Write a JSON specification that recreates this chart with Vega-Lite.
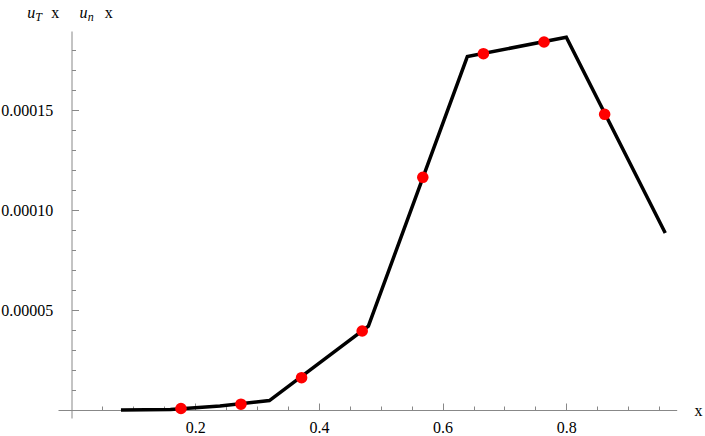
{
  "$schema": "https://vega.github.io/schema/vega-lite/v6.json",
  "width": 618.7,
  "height": 387,
  "autosize": {"type": "none"},
  "padding": {"left": 58, "top": 31, "right": 28.3, "bottom": 18},
  "background": "white",
  "config": {"view": {"stroke": null}, "font": "Liberation Serif"},
  "datasets": {
    "curve": [
      {"x": 0.08, "y": 0.0000000},
      {"x": 0.16, "y": 0.0000003},
      {"x": 0.24, "y": 0.0000020},
      {"x": 0.32, "y": 0.0000047},
      {"x": 0.48, "y": 0.0000419},
      {"x": 0.64, "y": 0.0001767},
      {"x": 0.80, "y": 0.0001864},
      {"x": 0.96, "y": 0.0000885}
    ],
    "points": [
      {"x": 0.177, "y": 0.00000075},
      {"x": 0.274, "y": 0.0000029},
      {"x": 0.372, "y": 0.00001615},
      {"x": 0.470, "y": 0.0000395},
      {"x": 0.568, "y": 0.00011635},
      {"x": 0.666, "y": 0.00017815},
      {"x": 0.764, "y": 0.000184},
      {"x": 0.862, "y": 0.00014785}
    ]
  },
  "resolve": {"axis": {"x": "independent", "y": "independent"}},
  "layer": [
    {
      "data": {"name": "points"},
      "mark": {"type": "circle", "opacity": 0},
      "encoding": {
        "x": {
          "field": "x", "type": "quantitative",
          "axis": {
            "orient": "bottom", "values": [], "offset": -8,
            "grid": false, "domain": false, "labels": false, "ticks": false,
            "title": "x",
            "titleFont": "Liberation Serif", "titleFontSize": 16, "titleFontWeight": "normal", "titleColor": "black",
            "titleX": 46.3, "titleY": -393, "titleAlign": "left", "titleBaseline": "alphabetic"
          }
        },
        "y": {
          "field": "y", "type": "quantitative",
          "axis": {
            "orient": "left", "values": [], "offset": -13.5,
            "grid": false, "domain": false, "labels": false, "ticks": false,
            "title": "n",
            "titleFont": "Liberation Serif", "titleFontSize": 12, "titleFontWeight": "normal", "titleFontStyle": "italic", "titleColor": "black",
            "titleAngle": 0, "titleX": 15.8, "titleY": -11, "titleAlign": "left", "titleBaseline": "alphabetic"
          }
        }
      }
    },
    {
      "data": {"name": "points"},
      "mark": {"type": "circle", "opacity": 0},
      "encoding": {
        "x": {
          "field": "x", "type": "quantitative",
          "axis": null
        },
        "y": {
          "field": "y", "type": "quantitative",
          "axis": {
            "orient": "left", "values": [], "offset": -13.5,
            "grid": false, "domain": false, "labels": false, "ticks": false,
            "title": "u",
            "titleFont": "Liberation Serif", "titleFontSize": 16, "titleFontWeight": "normal", "titleFontStyle": "italic", "titleColor": "black",
            "titleAngle": 0, "titleX": 7.5, "titleY": -14, "titleAlign": "left", "titleBaseline": "alphabetic"
          }
        }
      }
    },
    {
      "data": {"name": "curve"},
      "mark": {"type": "line", "color": "black", "strokeWidth": 3.5, "strokeJoin": "miter", "strokeCap": "butt", "clip": false},
      "encoding": {
        "x": {
          "field": "x", "type": "quantitative",
          "scale": {"domain": [-0.0218, 0.9785], "nice": false, "zero": false},
          "axis": {
            "orient": "bottom",
            "values": [0.2, 0.4, 0.6, 0.8],
            "format": ".1f",
            "offset": -8,
            "grid": false,
            "domainColor": "#888888", "domainWidth": 1,
            "tickColor": "#888888", "tickWidth": 1, "tickSize": -7,
            "labelFont": "Liberation Serif", "labelFontSize": 16, "labelColor": "black",
            "labelPadding": 16.7, "labelOverlap": false, "labelFlush": false, "labelBaseline": "top",
            "title": "x", "titleFont": "Liberation Serif", "titleFontSize": 16, "titleFontWeight": "normal", "titleColor": "black",
            "titleX": 640, "titleY": 5, "titleAlign": "center", "titleBaseline": "alphabetic"
          }
        },
        "y": {
          "field": "y", "type": "quantitative",
          "scale": {"domain": [-0.000004, 0.0001895], "nice": false, "zero": false},
          "axis": {
            "orient": "left",
            "values": [0.00005, 0.0001, 0.00015],
            "format": ".5f",
            "offset": -13.5,
            "grid": false,
            "domainColor": "#888888", "domainWidth": 1,
            "tickColor": "#888888", "tickWidth": 1, "tickSize": -7,
            "labelFont": "Liberation Serif", "labelFontSize": 16, "labelColor": "black",
            "labelPadding": 25.8, "labelOverlap": false, "labelFlush": false, "labelBaseline": "middle",
            "title": "u",
            "titleFont": "Liberation Serif", "titleFontSize": 16, "titleFontWeight": "normal", "titleFontStyle": "italic", "titleColor": "black",
            "titleAngle": 0, "titleX": -44.8, "titleY": -14, "titleAlign": "left", "titleBaseline": "alphabetic"
          }
        }
      }
    },
    {
      "data": {"name": "points"},
      "mark": {"type": "circle", "color": "#ff0000", "size": 135, "opacity": 1, "clip": false},
      "encoding": {
        "x": {
          "field": "x", "type": "quantitative",
          "axis": {
            "orient": "bottom",
            "values": [0.05, 0.1, 0.15, 0.25, 0.3, 0.35, 0.45, 0.5, 0.55, 0.65, 0.7, 0.75, 0.85, 0.9, 0.95],
            "offset": -8,
            "grid": false, "domain": false, "labels": false,
            "tickColor": "#888888", "tickWidth": 1, "tickSize": -4,
            "title": "x",
            "titleFont": "Liberation Serif", "titleFontSize": 16, "titleFontWeight": "normal", "titleColor": "black",
            "titleX": -7.3, "titleY": -393, "titleAlign": "left", "titleBaseline": "alphabetic"
          }
        },
        "y": {
          "field": "y", "type": "quantitative",
          "axis": {
            "orient": "left",
            "values": [0.00001, 0.00002, 0.00003, 0.00004, 0.00006, 0.00007, 0.00008, 0.00009, 0.00011, 0.00012, 0.00013, 0.00014, 0.00016, 0.00017, 0.00018],
            "offset": -13.5,
            "grid": false, "domain": false, "labels": false,
            "tickColor": "#888888", "tickWidth": 1, "tickSize": -4,
            "title": "T",
            "titleFont": "Liberation Serif", "titleFontSize": 12, "titleFontWeight": "normal", "titleFontStyle": "italic", "titleColor": "black",
            "titleAngle": 0, "titleX": -36.8, "titleY": -11, "titleAlign": "left", "titleBaseline": "alphabetic"
          }
        }
      }
    }
  ]
}
